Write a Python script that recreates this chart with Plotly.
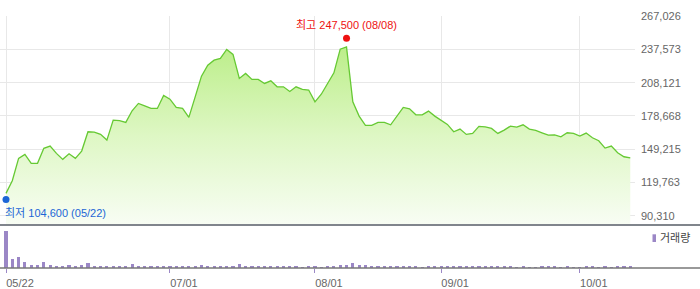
import plotly.graph_objects as go

# ---- data ----
close = [110100, 121280, 141100, 144640, 136680, 136680, 149950, 151990, 145530, 140220,
         145180, 141100, 147570, 164640, 164300, 162340, 157300, 174990, 174600, 172960,
         183230, 189770, 187650, 185350, 185350, 196800, 193570, 186230, 185350, 177380,
         195600, 213930, 223660, 228080, 229590, 237560, 233140, 211900, 216320, 211010,
         211010, 207470, 209780, 204470, 204470, 200400, 204470, 202160, 201620, 191190,
         197900, 207470, 216850, 237830, 239860, 191190, 178540, 170300, 170300, 172960,
         172960, 170840, 178800, 186230, 185000, 179690, 179690, 182960, 178540, 174990,
         171200, 164640, 167030, 162340, 163220, 169400, 169060, 167650, 163220, 166150,
         169690, 168800, 170840, 167030, 165880, 163750, 161720, 161980, 160210, 163750,
         163220, 160840, 163490, 159330, 156680, 150220, 151990, 146060, 142520, 141630]

volume = [2200000, 520000, 640000, 380000, 200000, 200000, 380000, 200000, 140000, 140000,
          200000, 80000, 200000, 320000, 140000, 80000, 80000, 140000, 140000, 80000,
          260000, 140000, 80000, 80000, 80000,
          140000, 80000, 80000, 80000, 80000, 140000, 200000, 140000, 140000, 80000,
          80000, 80000, 260000, 80000, 80000, 80000, 80000, 80000, 80000, 80000,
          80000, 80000, 20000, 80000, 80000,
          20000, 80000, 140000, 200000, 200000, 320000, 200000, 200000, 80000, 80000,
          80000, 80000, 80000, 140000, 80000, 80000, 20000, 80000, 80000, 80000,
          80000, 80000, 80000, 80000, 80000,
          80000, 80000, 80000, 80000, 80000, 80000, 20000, 80000, 20000, 20000,
          80000, 80000, 80000, 20000, 80000, 20000, 20000, 80000, 80000, 20000,
          80000, 20000, 140000, 80000, 80000]

x_idx = list(range(len(close)))

date_tick_idx = [0, 26, 49, 69, 91]
date_tick_text = ["05/22", "07/01", "08/01", "09/01", "10/01"]

price_ticks = [90310, 119763, 149215, 178668, 208121, 237573, 267026]
price_tick_text = [f"{v:,}" for v in price_ticks]

high_idx, high_val, high_date = 54, 247500, "08/08"
low_idx, low_val, low_date = 0, 104600, "05/22"

# ---- styles ----
FONT = "Liberation Sans, Arial, Noto Sans CJK KR, sans-serif"
GREEN = "#66c933"
PURPLE = "#9b87c6"
GRID = "#e8e8e8"

W, H = 700, 289
mt, mb, ml, mr = 16, 21, 0, 65
plot_h = H - mt - mb
vol_frac = 43 / plot_h

fig = go.Figure()

fig.add_trace(go.Scatter(
    x=x_idx, y=close, mode="lines",
    line=dict(color=GREEN, width=1.3),
    fill="tozeroy",
    fillgradient=dict(type="vertical", start=82080, stop=240000,
                      colorscale=[[0, "rgb(248,253,244)"], [0.5, "rgb(222,247,196)"],
                                  [1, "rgb(188,238,138)"]]),
    xaxis="x", yaxis="y", hoverinfo="skip", showlegend=False))

fig.add_trace(go.Scatter(
    x=[high_idx], y=[high_val], mode="markers",
    marker=dict(color="#ee1111", size=7), xaxis="x", yaxis="y",
    hoverinfo="skip", showlegend=False))
fig.add_trace(go.Scatter(
    x=[low_idx], y=[low_val], mode="markers",
    marker=dict(color="#1c66d6", size=7), xaxis="x", yaxis="y",
    hoverinfo="skip", showlegend=False, cliponaxis=False))

fig.add_trace(go.Bar(
    x=x_idx, y=volume, width=0.5, marker=dict(color=PURPLE, line=dict(width=0)),
    xaxis="x2", yaxis="y2", hoverinfo="skip", showlegend=False))

xr = [-0.951, 99.75]
fig.update_layout(
    width=W, height=H,
    margin=dict(t=mt, b=mb, l=ml, r=mr, pad=0),
    paper_bgcolor="white", plot_bgcolor="white",
    font=dict(family=FONT, size=11, color="#666666"),
    xaxis=dict(domain=[0, 1], range=xr, anchor="y",
               tickvals=date_tick_idx, showticklabels=False, ticks="",
               showgrid=True, gridcolor=GRID, gridwidth=1, zeroline=False, showline=False),
    yaxis=dict(domain=[vol_frac, 1], range=[82080, 267200], side="right", anchor="x",
               tickvals=price_ticks, ticktext=price_tick_text, ticks="",
               ticklabelstandoff=5,
               showgrid=True, gridcolor=GRID, gridwidth=1, zeroline=False, showline=False,
               tickfont=dict(size=11, color="#666666")),
    xaxis2=dict(domain=[0, 1], range=xr, anchor="y2",
                tickvals=date_tick_idx, ticktext=date_tick_text,
                ticks="outside", ticklen=4, tickwidth=1, tickcolor=PURPLE,
                ticklabelshift=14, ticklabelstandoff=1,
                showgrid=False, zeroline=False, showline=False,
                tickfont=dict(size=11, color="#666666")),
    yaxis2=dict(domain=[0, vol_frac], range=[0, 2580000], anchor="x2",
                showticklabels=False, ticks="", showgrid=False, zeroline=False, showline=False),
    bargap=0,
)

# panel separators
fig.add_shape(type="line", xref="paper", yref="paper", x0=0, x1=W / (W - ml - mr),
              y0=vol_frac, y1=vol_frac, line=dict(color="#80858c", width=2), layer="above")
fig.add_shape(type="line", xref="paper", yref="paper", x0=0, x1=W / (W - ml - mr),
              y0=0, y1=0, line=dict(color="#777777", width=1.5), layer="above")

# high / low labels
fig.add_annotation(x=high_idx, y=high_val, xref="x", yref="y",
                   text=f"최고 {high_val:,} ({high_date})", showarrow=False,
                   xanchor="center", yanchor="middle", yshift=13,
                   font=dict(color="#ee1111", size=11, family=FONT))
fig.add_annotation(x=low_idx, y=low_val, xref="x", yref="y",
                   text=f"최저 {low_val:,} ({low_date})", showarrow=False,
                   xanchor="left", yanchor="middle", yshift=-13, xshift=-3,
                   font=dict(color="#1c66d6", size=11, family=FONT))

# volume legend
fig.add_shape(type="rect", xref="paper", yref="paper",
              x0=652.5 / (W - mr), x1=656 / (W - mr),
              y0=(268 - 242) / plot_h, y1=(268 - 234.3) / plot_h,
              fillcolor=PURPLE, line=dict(width=0))
fig.add_annotation(xref="paper", yref="paper", x=657.5 / (W - mr), y=(268 - 238) / plot_h,
                   text="거래량", showarrow=False, xanchor="left", yanchor="middle",
                   font=dict(color="#444444", size=11, family=FONT))

fig.write_html("out.html")
